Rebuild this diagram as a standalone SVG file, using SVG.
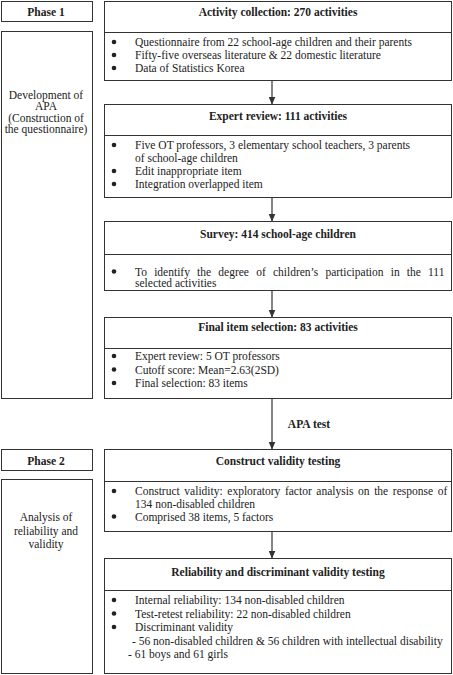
<svg xmlns="http://www.w3.org/2000/svg" width="453" height="675" viewBox="0 0 453 675">
<style>
rect.box{fill:#fff;stroke:#333;stroke-width:1}
line.div{stroke:#333;stroke-width:1}
text{font-family:"Liberation Serif","Times New Roman",serif;font-size:11.5px;fill:#222}
text.h{font-weight:bold;text-anchor:middle}
text.c{text-anchor:middle}
circle.b{fill:#222}
.conn line{stroke:#333;stroke-width:1.2;marker-end:url(#arr)}
</style>
<defs>
<marker id="arr" viewBox="0 0 8 7" refX="8" refY="3.5" markerWidth="8" markerHeight="7" markerUnits="userSpaceOnUse" orient="auto">
<path d="M0,0 L8,3.5 L0,7 z" fill="#333"/>
</marker>
</defs>
<rect width="453" height="675" fill="#fff"/>

<g id="phase1">
<rect class="box" x="1.5" y="1.5" width="91" height="20"/>
<text class="h" x="46" y="15.5">Phase 1</text>
</g>
<g id="development">
<rect class="box" x="1.5" y="31.5" width="91" height="367"/>
<text class="c" x="46" y="99">Development of</text>
<text class="c" x="46" y="110">APA</text>
<text class="c" x="46" y="121.5">(Construction of</text>
<text class="c" x="46" y="133">the questionnaire)</text>
</g>

<g id="activity">
<rect class="box" x="104.5" y="1.5" width="347" height="79"/>
<line class="div" x1="104.5" y1="32.5" x2="451.5" y2="32.5"/>
<text class="h" x="278" y="16">Activity collection: 270 activities</text>
<circle class="b" cx="114" cy="42" r="2.3"/><text x="135" y="46">Questionnaire from 22 school-age children and their parents</text>
<circle class="b" cx="114" cy="55" r="2.3"/><text x="135" y="59">Fifty-five overseas literature &amp; 22 domestic literature</text>
<circle class="b" cx="114" cy="68" r="2.3"/><text x="135" y="72">Data of Statistics Korea</text>
</g>

<g id="expert">
<rect class="box" x="104.5" y="104.5" width="347" height="93"/>
<line class="div" x1="104.5" y1="135.5" x2="451.5" y2="135.5"/>
<text class="h" x="278" y="120">Expert review: 111 activities</text>
<circle class="b" cx="114" cy="145" r="2.3"/><text x="135" y="149">Five OT professors, 3 elementary school teachers, 3 parents</text>
<text x="135" y="162">of school-age children</text>
<circle class="b" cx="114" cy="171" r="2.3"/><text x="135" y="175">Edit inappropriate item</text>
<circle class="b" cx="114" cy="184" r="2.3"/><text x="135" y="188">Integration overlapped item</text>
</g>

<g id="survey">
<rect class="box" x="104.5" y="221.5" width="347" height="69"/>
<line class="div" x1="104.5" y1="254.5" x2="451.5" y2="254.5"/>
<text class="h" x="278" y="238">Survey: 414 school-age children</text>
<circle class="b" cx="114" cy="271.5" r="2.3"/><text x="135" y="275.5" word-spacing="4.3">To identify the degree of children’s participation in the 111</text>
<text x="135" y="286.5">selected activities</text>
</g>

<g id="final">
<rect class="box" x="104.5" y="317.5" width="347" height="81"/>
<line class="div" x1="104.5" y1="348.5" x2="451.5" y2="348.5"/>
<text class="h" x="278" y="331">Final item selection: 83 activities</text>
<circle class="b" cx="114" cy="356" r="2.3"/><text x="135" y="360">Expert review: 5 OT professors</text>
<circle class="b" cx="114" cy="369.5" r="2.3"/><text x="135" y="373.5">Cutoff score: Mean=2.63(2SD)</text>
<circle class="b" cx="114" cy="383" r="2.3"/><text x="135" y="387">Final selection: 83 items</text>
</g>

<g id="phase2">
<rect class="box" x="1.5" y="449.5" width="91" height="21"/>
<text class="h" x="46" y="465">Phase 2</text>
</g>
<g id="analysis">
<rect class="box" x="1.5" y="479.5" width="91" height="194"/>
<text class="c" x="46" y="521">Analysis of</text>
<text class="c" x="46" y="535">reliability and</text>
<text class="c" x="46" y="548">validity</text>
</g>

<g id="construct">
<rect class="box" x="104.5" y="449.5" width="347" height="82"/>
<line class="div" x1="104.5" y1="481.5" x2="451.5" y2="481.5"/>
<text class="h" x="278" y="465">Construct validity testing</text>
<circle class="b" cx="114" cy="491" r="2.3"/><text x="135" y="495" word-spacing="1.75">Construct validity: exploratory factor analysis on the response of</text>
<text x="135" y="507.5">134 non-disabled children</text>
<circle class="b" cx="114" cy="516.5" r="2.3"/><text x="135" y="520.5">Comprised 38 items, 5 factors</text>
</g>

<g id="reliability">
<rect class="box" x="104.5" y="558.5" width="347" height="115"/>
<line class="div" x1="104.5" y1="590.5" x2="451.5" y2="590.5"/>
<text class="h" x="278" y="576">Reliability and discriminant validity testing</text>
<circle class="b" cx="114" cy="600" r="2.3"/><text x="135" y="604">Internal reliability: 134 non-disabled children</text>
<circle class="b" cx="114" cy="613.5" r="2.3"/><text x="135" y="617.5">Test-retest reliability: 22 non-disabled children</text>
<circle class="b" cx="114" cy="627" r="2.3"/><text x="135" y="631">Discriminant validity</text>
<text x="132" y="644.5">- 56 non-disabled children &amp; 56 children with intellectual disability</text>
<text x="128" y="658">- 61 boys and 61 girls</text>
</g>

<g id="connectors" class="conn">
<line x1="272" y1="80.5" x2="272" y2="104.5"/>
<line x1="272" y1="197.5" x2="272" y2="221.5"/>
<line x1="272" y1="290.5" x2="272" y2="317.5"/>
<line x1="272" y1="398.5" x2="272" y2="449.5"/>
<line x1="272" y1="531.5" x2="272" y2="558.5"/>
<text class="h" x="309" y="428">APA test</text>
</g>
</svg>
